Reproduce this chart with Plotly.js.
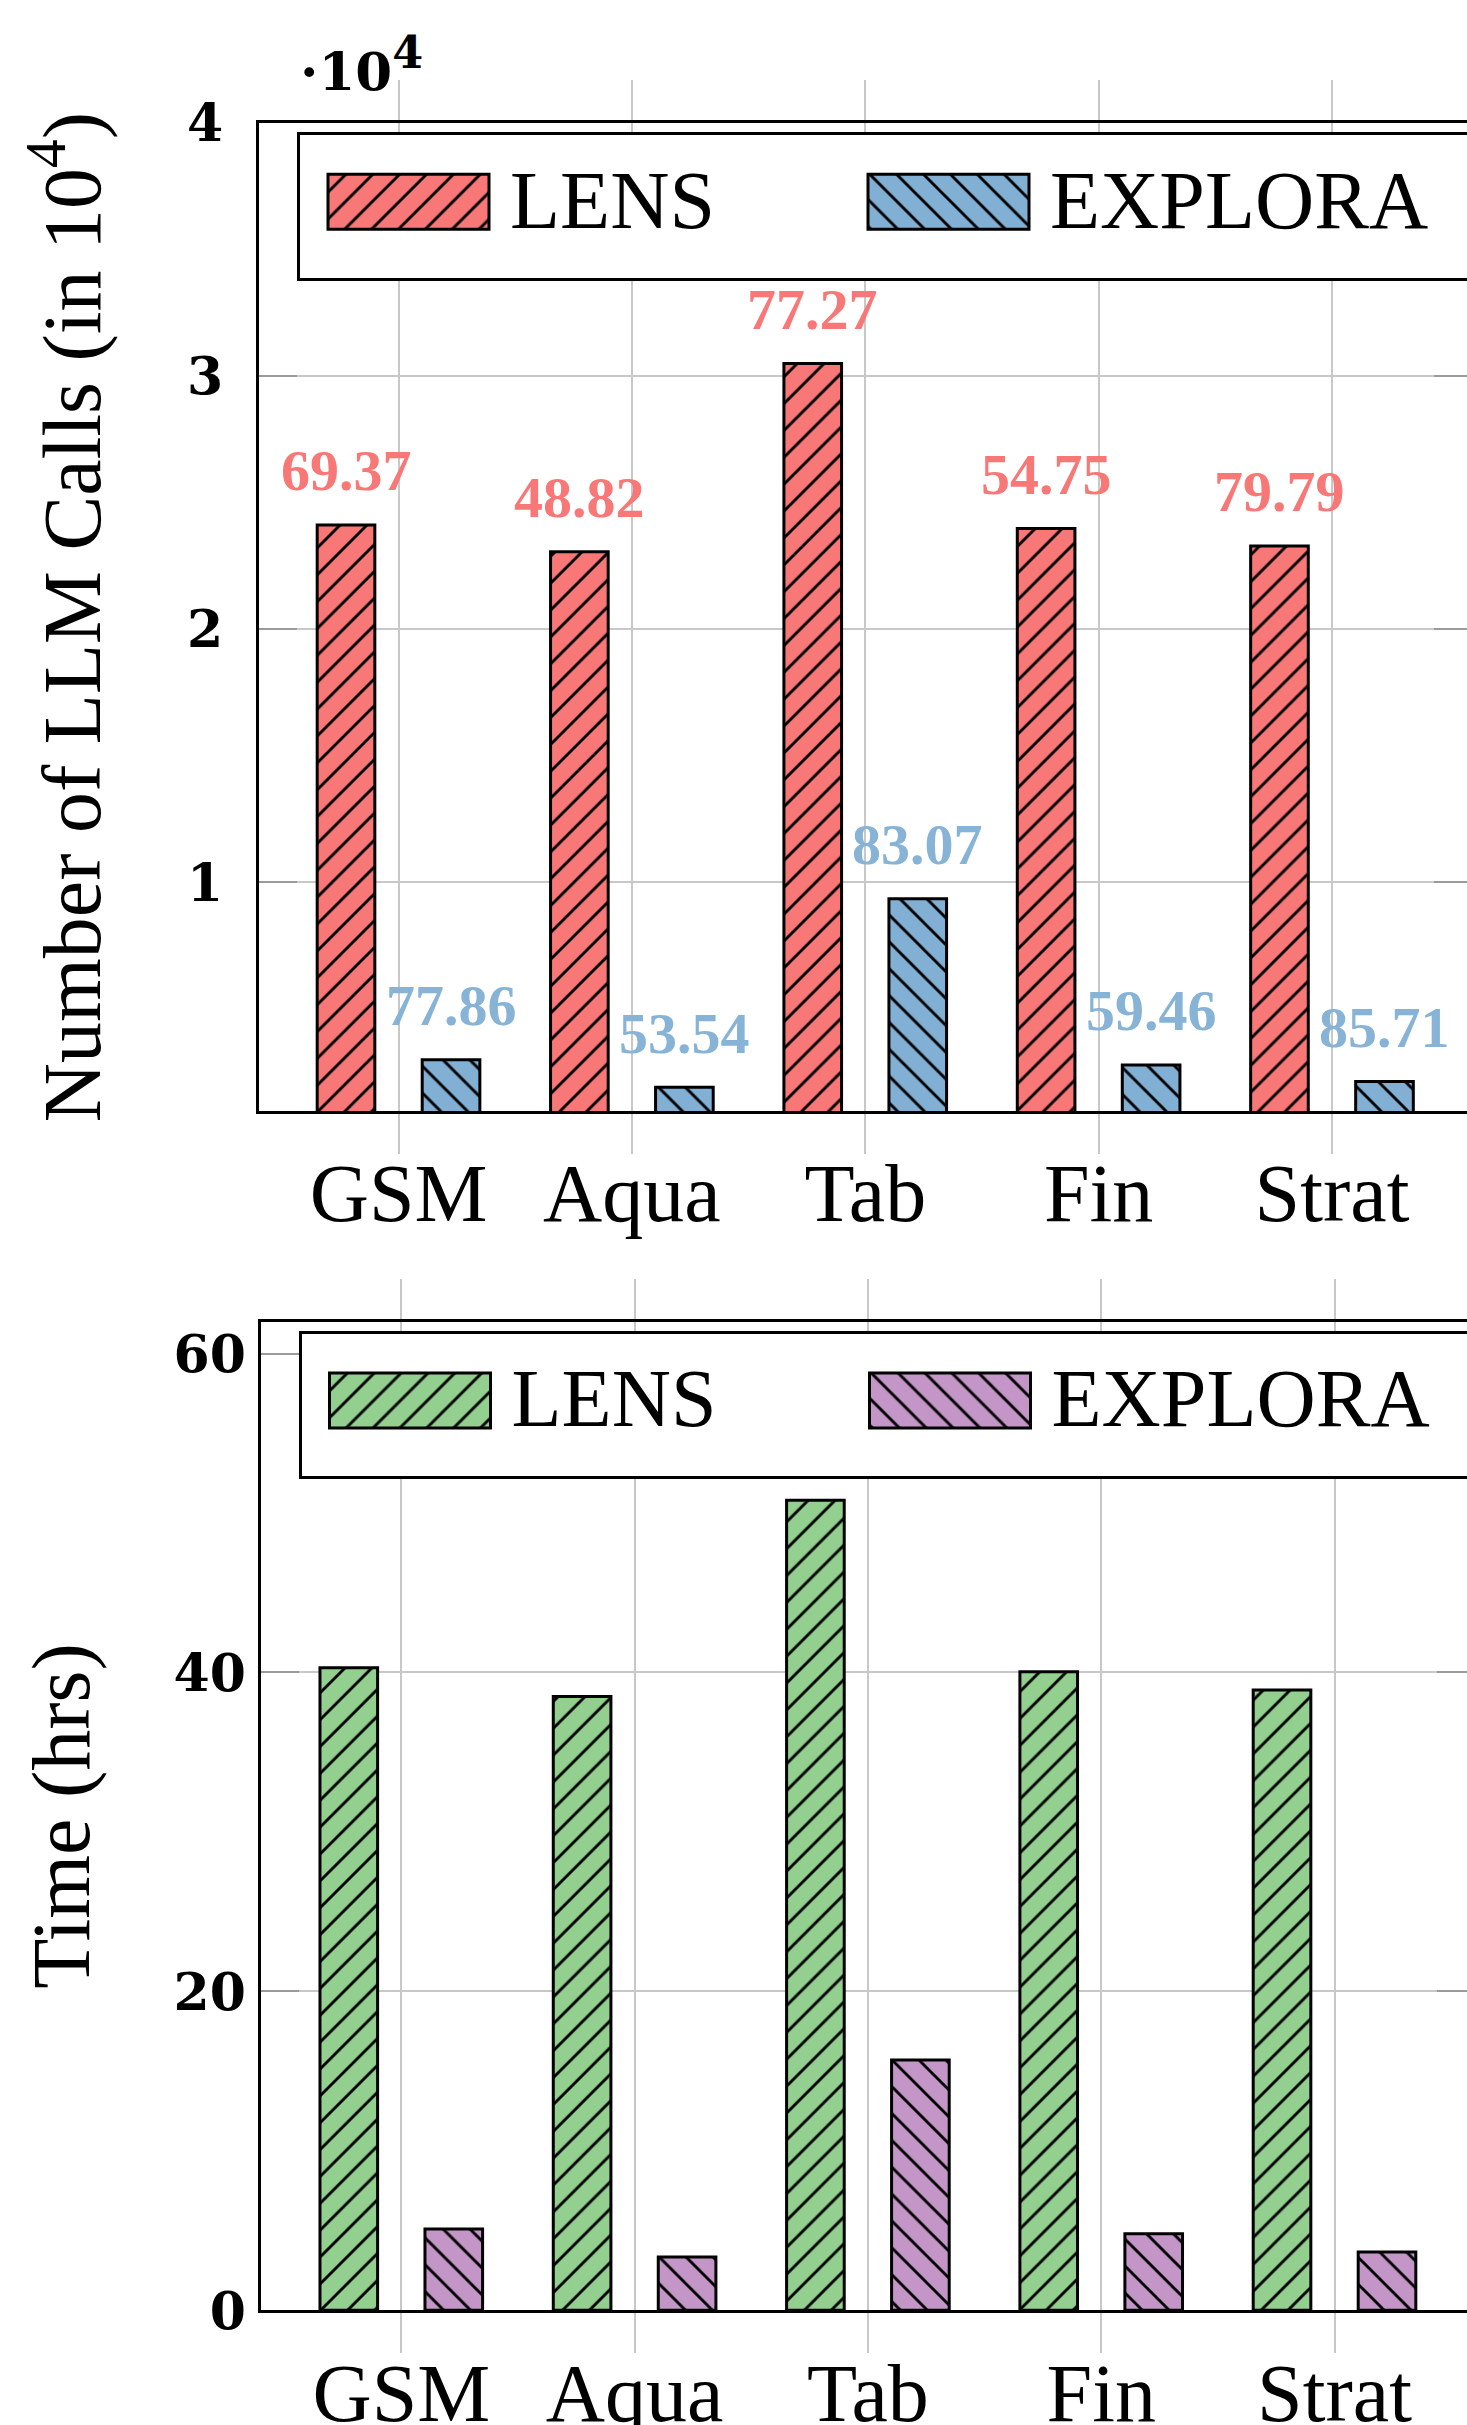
<!DOCTYPE html>
<html>
<head>
<meta charset="utf-8">
<script src="https://cdn.plot.ly/plotly-3.0.1.min.js"></script>
<style>
html,body{margin:0;padding:0;background:#fff;overflow:hidden;width:1467px;height:2425px;}
#chart{width:1560px;height:2425px;}
</style>
</head>
<body>
<div id="chart"></div>
<script>
// ---------- data ----------
const categories = ["GSM", "Aqua", "Tab", "Fin", "Strat"];
// LLM calls, in units of 10^4
const lensCalls    = [2.412, 2.306, 3.050, 2.398, 2.329];
const exploraCalls = [0.299, 0.191, 0.935, 0.279, 0.214];
// labels printed above the bars
const lensAcc    = [69.37, 48.82, 77.27, 54.75, 79.79];
const exploraAcc = [77.86, 53.54, 83.07, 59.46, 85.71];
// time in hours
const lensTime    = [40.3, 38.5, 50.8, 40.05, 38.9];
const exploraTime = [5.1, 3.35, 15.7, 4.8, 3.65];
const callTicks = [1, 2, 3, 4];
const timeTicks = [0, 20, 40, 60];
const seriesNames = ["LENS", "EXPLORA"];

// ---------- style ----------
const W = 1560, H = 2425;
const ML = 240, MR = 80, MT = 0, MB = 0;
const PW = W - ML - MR, PH = H - MT - MB;
const px = v => (v - ML) / PW;
const py = v => 1 - (v - MT) / PH;

const RED = '#F87878', BLUE = '#82B0D4', GREEN = '#93CF8E', PURPLE = '#C496C8';
const BW = 0.247, GAP = 0.225;
const OFF_L = -GAP - BW / 2, OFF_E = GAP - BW / 2;
const SERIF = 'Liberation Serif, Times New Roman, serif';
const BOLD = 'DejaVu Serif, serif';
const GRID = '#c8c8c8';

function barTrace(y, name, color, shape, xa, ya, off, legend) {
  return {
    type: 'bar', x: categories, y: y, name: name, xaxis: xa, yaxis: ya,
    offset: off, width: BW, legend: legend, hoverinfo: 'skip',
    marker: {
      color: color,
      line: {color: '#000', width: 3},
      pattern: {shape: shape, size: 19, solidity: 0.15, fgcolor: '#000', bgcolor: color, fillmode: 'replace'}
    }
  };
}

const data = [
  barTrace(lensCalls, seriesNames[0], RED, '/', 'x', 'y', OFF_L, 'legend'),
  barTrace(exploraCalls, seriesNames[1], BLUE, '\\', 'x', 'y', OFF_E, 'legend'),
  barTrace(lensTime, seriesNames[0], GREEN, '/', 'x2', 'y2', OFF_L, 'legend2'),
  barTrace(exploraTime, seriesNames[1], PURPLE, '\\', 'x2', 'y2', OFF_E, 'legend2')
];

const annotations = [];
categories.forEach((c, i) => {
  annotations.push({
    xref: 'x', yref: 'y', x: i + OFF_L + BW / 2, y: lensCalls[i],
    text: lensAcc[i].toFixed(2), showarrow: false, yshift: 54,
    xanchor: 'center', yanchor: 'middle',
    font: {family: SERIF, size: 58, color: RED, weight: 700}
  });
  annotations.push({
    xref: 'x', yref: 'y', x: i + OFF_E + BW / 2, y: exploraCalls[i],
    text: exploraAcc[i].toFixed(2), showarrow: false, yshift: 54,
    xanchor: 'center', yanchor: 'middle',
    font: {family: SERIF, size: 58, color: '#86B3D6', weight: 700}
  });
});
annotations.push({
  xref: 'paper', yref: 'paper', x: px(298), y: py(104),
  xanchor: 'left', yanchor: 'bottom', showarrow: false,
  text: '·10<sup><span style="font-size:120%">4</span></sup>',
  font: {family: BOLD, size: 53, color: '#000', weight: 700}
});

function xAxis(domain, anchor) {
  return {
    domain: domain, anchor: anchor, type: 'category', range: [-0.6, 4.6],
    showline: true, linecolor: '#000', linewidth: 3, mirror: 'allticks',
    ticks: 'outside', ticklen: 40, tickwidth: 2, tickcolor: GRID,
    showgrid: true, gridcolor: GRID, gridwidth: 2, zeroline: false,
    tickfont: {family: SERIF, size: 82, color: '#000'},
    ticklabelstandoff: -31, fixedrange: true
  };
}
function yAxis(domain, anchor, range, ticks, title, labelStandoff, standoff) {
  return {
    domain: domain, anchor: anchor, range: range,
    tickmode: 'array', tickvals: ticks, ticktext: ticks.map(String),
    showline: true, linecolor: '#000', linewidth: 3, mirror: 'allticks',
    ticks: 'inside', ticklen: 38, tickwidth: 2, tickcolor: '#9a9a9a',
    showgrid: true, gridcolor: GRID, gridwidth: 2, zeroline: false,
    tickfont: {family: BOLD, size: 52, color: '#000', weight: 700},
    ticklabelstandoff: labelStandoff,
    title: {text: title, font: {family: SERIF, size: 82, color: '#000'}, standoff: standoff},
    fixedrange: true
  };
}

const legendBase = {
  orientation: 'h', xanchor: 'left', yanchor: 'top',
  bgcolor: '#fff', bordercolor: '#000', borderwidth: 3,
  font: {family: SERIF, size: 82, color: '#000'},
  itemwidth: 200, entrywidth: 325, itemclick: false, itemdoubleclick: false
};

const layout = {
  width: W, height: H,
  margin: {l: ML, r: MR, t: MT, b: MB},
  paper_bgcolor: '#fff', plot_bgcolor: '#fff',
  barmode: 'overlay', showlegend: true,
  xaxis: xAxis([px(258.5), px(1472)], 'y'),
  yaxis: yAxis([py(1111), py(123)], 'x', [0.097, 4], callTicks,
               'Number of LLM Calls (in 10<sup>4</sup>)', 22, 60),
  xaxis2: xAxis([px(261.3), px(1474.5)], 'y2'),
  yaxis2: yAxis([py(2310.3), py(1321.7)], 'x2', [0, 62], timeTicks,
               'Time (hrs)', 2, 57),
  legend: Object.assign({}, legendBase, {x: px(297), y: py(133)}),
  legend2: Object.assign({}, legendBase, {x: px(298.5), y: py(1331.7)}),
  annotations: annotations
};

const SWATCH = 'M-77,-21.5H84V33.5H-77Z';
function tweak(gd) {
  try {
    const barFill = {};
    gd.querySelectorAll('g.trace.bars').forEach(g => {
      const d = g.__data__; const t = d && d[0] && d[0].trace;
      const p = g.querySelector('path');
      if (t && p) barFill[t.index] = p.style.fill;
    });
    gd.querySelectorAll('g.traces').forEach(g => {
      const d = g.__data__; const t = d && d[0] && d[0].trace;
      g.querySelectorAll('.legendpoints path').forEach(p => {
        p.setAttribute('d', SWATCH);
        if (t && barFill[t.index]) p.style.fill = barFill[t.index];
      });
    });
    ['legend', 'legend2'].forEach(id => {
      const lg = gd.querySelector('g.' + id);
      if (!lg) return;
      const r = lg.querySelector('rect.bg');
      if (r && !r.dataset.done) {
        const y0 = parseFloat(r.getAttribute('y')) || 0;
        const h0 = parseFloat(r.getAttribute('height')) || 0;
        r.setAttribute('y', y0 - 1);
        r.setAttribute('height', h0 + 22.5);
        r.setAttribute('width', 1400);
        r.dataset.done = '1';
      }
      const sb = lg.querySelector('g.scrollbox');
      if (sb) {
        const cp = sb.getAttribute('clip-path') || '';
        const m = cp.match(/#([^)"']+)/);
        if (m) {
          const cr = document.getElementById(m[1]);
          const rr = cr && cr.querySelector('rect');
          if (rr) {
            rr.setAttribute('width', 1400);
            rr.setAttribute('y', -30);
            rr.setAttribute('height', 260);
          }
        }
      }
    });
  } catch (e) { console.error(e); }
}

Plotly.newPlot('chart', data, layout, {staticPlot: true, displayModeBar: false}).then(gd => {
  tweak(gd);
  if (gd.on) gd.on('plotly_afterplot', () => tweak(gd));
  setTimeout(() => tweak(gd), 50);
});
</script>
</body>
</html>
